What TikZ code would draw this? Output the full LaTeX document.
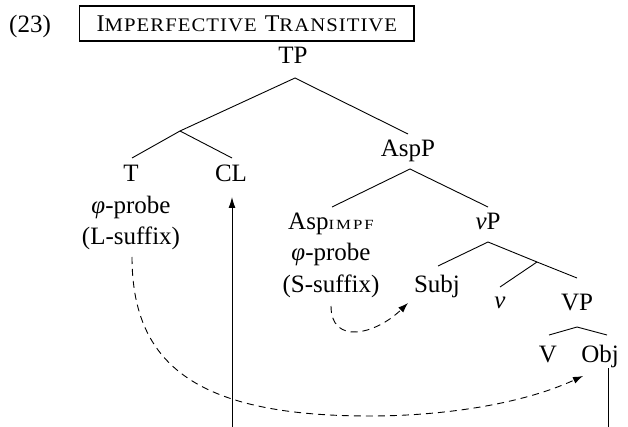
\documentclass[tikz,border=0pt]{standalone}
\usepackage{fontspec}
\setmainfont{Liberation Serif}
\newfontfamily\scspaced[LetterSpace=5]{Liberation Serif}
\newfontfamily\subspaced[LetterSpace=12]{Liberation Serif}
\usetikzlibrary{arrows.meta}
\newcommand{\bigc}[1]{{\fontsize{24}{29}\selectfont #1}}
\newcommand{\smc}[1]{\scalebox{1.08}[1]{\scspaced\fontsize{19.2}{23}\selectfont #1}}
\begin{document}
\begin{tikzpicture}[x=1pt,y=-1pt,
  lab/.style={anchor=base,inner sep=0pt,font=\fontsize{25}{30}\selectfont},
  branch/.style={line width=0.9pt},
  dsh/.style={line width=0.9pt,dash pattern=on 7pt off 5pt,-{Latex[length=10pt,width=7pt]}},
  mv/.style={line width=0.9pt,-{Latex[length=11pt,width=7pt]}}]
\useasboundingbox (0,0) rectangle (628,427);
% header
\node[lab] (ex) at (30,33) {(23)};
\node[draw,line width=1.4pt,anchor=west,minimum height=35pt,inner xsep=17pt,inner ysep=0pt] (title) at (79,23.5)
  {\bigc{I}\smc{MPERFECTIVE}\hspace{8pt}\bigc{T}\smc{RANSITIVE}};
% labels
\node[lab] (TP) at (293,64) {TP};
\node[lab] (T) at (131,182) {T};
\node[lab] (Tphi) at (131,214) {\textit{φ}-probe};
\node[lab] (Tsuf) at (131,245) {(L-suffix)};
\node[lab] (CL) at (231,182) {CL};
\node[lab] (AspP) at (408,157) {AspP};
\node[lab] (Asp) at (331,230) {Asp\scalebox{1.2}[1]{\subspaced\fontsize{14}{16}\selectfont IMPF}};
\node[lab] (Aphi) at (331,261) {\textit{φ}-probe};
\node[lab] (Asuf) at (331,292) {(S-suffix)};
\node[lab] (vP) at (488,230) {\textit{v}P};
\node[lab] (Subj) at (437,292) {Subj};
\node[lab] (v) at (500,308) {\textit{v}};
\node[lab] (VP) at (577,310) {VP};
\node[lab] (V) at (548,362) {V};
\node[lab] (Obj) at (600,362) {Obj};
% branch points
\coordinate (TPb) at (295,78);
\coordinate (Xb) at (180,131);
\coordinate (Ttop) at (132,158);
\coordinate (CLtop) at (232,158);
\coordinate (AspPtop) at (408,134);
\coordinate (AspPb) at (410,169);
\coordinate (Asptop) at (332,207);
\coordinate (vPtop) at (488,207);
\coordinate (vPb) at (488,242);
\coordinate (Subjtop) at (438,266);
\coordinate (vbar) at (537,262);
\coordinate (vtop) at (500,287);
\coordinate (VPtop) at (577,278);
\coordinate (VPb) at (577,327);
\coordinate (Vtop) at (549,335);
\coordinate (Objtop) at (607,335);
\draw[branch] (Xb) -- (TPb) -- (AspPtop);
\draw[branch] (Ttop) -- (Xb) -- (CLtop);
\draw[branch] (Asptop) -- (AspPb) -- (vPtop);
\draw[branch] (Subjtop) -- (vPb) -- (vbar) -- (VPtop);
\draw[branch] (vbar) -- (vtop);
\draw[branch] (Vtop) -- (VPb) -- (Objtop);
% movement and agreement
\coordinate (CLfoot) at (232,427);
\coordinate (CLhead) at (232,197);
\draw[mv] (CLfoot) -- (CLhead);
\coordinate (Objfoot) at (608,427);
\coordinate (Objbot) at (608,368);
\draw[branch] (Objbot) -- (Objfoot);
\coordinate (Tstart) at (132,257);
\coordinate (Tlow) at (370,416);
\coordinate (Objgoal) at (583,376);
\draw[dsh] (Tstart) .. controls (132,369) and (203,416) .. (Tlow) .. controls (440,416) and (520,405) .. (Objgoal);
\coordinate (Astart) at (331,306);
\coordinate (Subjgoal) at (408,303);
\draw[dsh] (Astart) .. controls (331,345) and (375,335) .. (Subjgoal);
\end{tikzpicture}
\end{document}
